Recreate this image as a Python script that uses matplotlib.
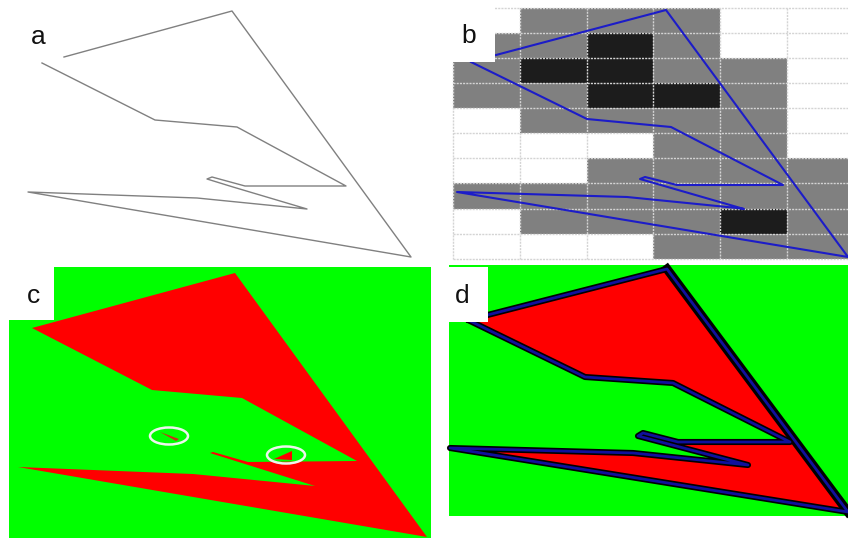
import numpy as np
import matplotlib
matplotlib.use("Agg")
import matplotlib.pyplot as plt
import matplotlib.patches as mpatches
from matplotlib.colors import ListedColormap

# outlines in image pixels
a_x = [64, 232, 411, 28, 197, 307, 233, 207, 212, 245, 346, 237, 155, 42]
a_y = [57, 11, 257, 192, 198, 209, 187, 179, 177, 186, 186, 127, 120, 63]

b_x = [496, 666, 848, 457, 627, 737, 744, 640, 645, 677, 783, 671, 587, 471]
b_y = [55, 10, 257, 192, 197, 208, 209, 179, 177, 185, 185, 127, 119, 62]

c_x = [32, 235, 427, 18, 193, 315, 210, 213, 248, 357, 242, 152]
c_y = [328, 273, 537, 467, 474, 486, 453, 452, 462, 461, 398, 390]

d_x = [468, 667, 848, 450, 633, 748, 638, 643, 678, 790, 673, 585, 468]
d_y = [320, 269, 512, 448, 453, 465, 436, 433, 442, 442, 383, 377, 320]

# panel b cells: 0 white, 1 grey, 2 black
grid_x = [453, 520, 587, 653, 720, 787, 853]
grid_y = [7.5, 32.5, 57.5, 82.5, 108, 133, 158, 183, 209, 234, 259]
cells = [
    [0, 1, 1, 1, 0, 0],
    [1, 1, 2, 1, 0, 0],
    [1, 2, 2, 1, 1, 0],
    [1, 1, 2, 2, 1, 0],
    [0, 1, 1, 1, 1, 0],
    [0, 0, 0, 1, 1, 0],
    [0, 0, 1, 1, 1, 1],
    [1, 1, 1, 1, 1, 1],
    [0, 1, 1, 1, 2, 1],
    [0, 0, 0, 1, 1, 1],
]

# the two small bits circled in panel c
sliver_x = [160, 179, 176]
sliver_y = [432, 439, 441]
wedge_x = [274, 292, 292]
wedge_y = [459, 451, 460]
ring_x = [169, 286]
ring_y = [436, 455]

labels = ["a", "b", "c", "d"]
label_x = [38, 469, 33, 462]
label_y = [37, 36, 296, 296]

GREEN = "#00ff00"
RED = "#ff0000"

fig = plt.figure(figsize=(8.48, 5.38), dpi=100, facecolor="white")
ax = fig.add_axes([0, 0, 1, 1])
ax.set_xlim(0, 848)
ax.set_ylim(538, 0)
ax.axis("off")

# ---- a
ax.plot(a_x, a_y, color="#808080", lw=1.0, zorder=2)

# ---- b
cmap = ListedColormap(["white", "#808080", "#1c1c1c"])
ax.pcolormesh(grid_x, grid_y, np.array(cells), cmap=cmap, vmin=0, vmax=2, zorder=1)
for x in grid_x:
    ax.plot([x, x], [grid_y[0], grid_y[-1]], color="#d4d4d4", lw=1.0, ls=(0, (1.5, 0.8)), zorder=2)
for y in grid_y:
    ax.plot([grid_x[0], grid_x[-1]], [y, y], color="#d4d4d4", lw=1.0, ls=(0, (1.5, 0.8)), zorder=2)
ax.plot(b_x, b_y, color="#1c1cc8", lw=1.5, zorder=3)
ax.add_patch(mpatches.Rectangle((440, 0), 55, 62, fc="white", ec="none", zorder=4))

# ---- c
ax.add_patch(mpatches.Rectangle((9, 267), 422, 271, fc=GREEN, ec="none", zorder=1))
ax.add_patch(mpatches.Polygon(np.column_stack([c_x, c_y]), fc=RED, ec="none", zorder=2))
ax.add_patch(mpatches.Polygon(np.column_stack([sliver_x, sliver_y]), fc="#c83018", ec="none", zorder=2))
ax.add_patch(mpatches.Polygon(np.column_stack([wedge_x, wedge_y]), fc=RED, ec="none", zorder=2))
for x, y in zip(ring_x, ring_y):
    ax.add_patch(mpatches.Ellipse((x, y), 38, 17, fc="none", ec="#eef5ee", lw=1.8, zorder=3))
ax.add_patch(mpatches.Rectangle((0, 265), 54, 55, fc="white", ec="none", zorder=4))

# ---- d
ax.add_patch(mpatches.Rectangle((449, 265), 399, 251, fc=GREEN, ec="none", zorder=1))
ax.add_patch(mpatches.Polygon(np.column_stack([d_x, d_y]), fc=RED, ec="none", zorder=2))
ax.plot(d_x, d_y, color="black", lw=4.4, solid_joinstyle="round", solid_capstyle="round", zorder=3)
ax.plot(d_x[1:3], d_y[1:3], color="black", lw=6.5, zorder=3)
ax.plot(d_x, d_y, color="#10109c", lw=2.0, solid_joinstyle="round", zorder=4)
ax.add_patch(mpatches.Rectangle((449, 267), 39, 55, fc="white", ec="none", zorder=5))

for s, x, y in zip(labels, label_x, label_y):
    ax.text(x, y, s, family="Liberation Sans", fontsize=19, ha="center", va="center", color="#111111", zorder=6)

fig.savefig("out.png", dpi=100)
